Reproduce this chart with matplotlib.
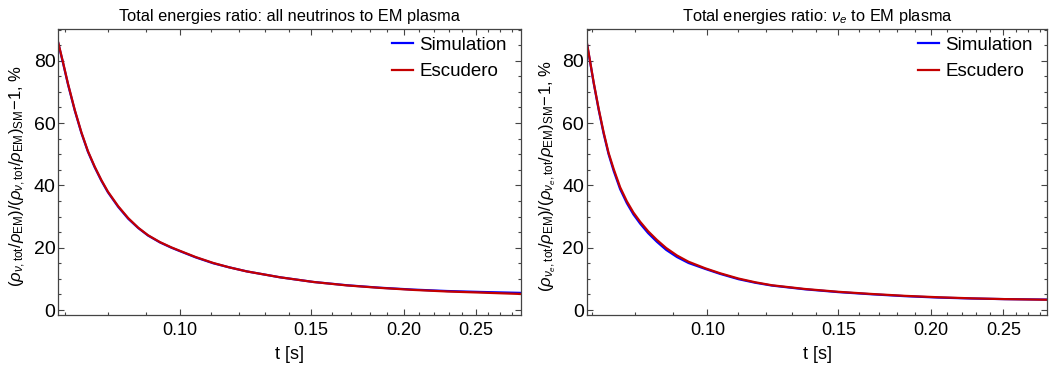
import matplotlib
matplotlib.use("Agg")
import matplotlib.pyplot as plt
from matplotlib.ticker import FixedLocator, NullFormatter, MultipleLocator, FixedFormatter

plt.rcParams['font.family'] = ['Liberation Sans', 'DejaVu Sans']
plt.rcParams['mathtext.fontset'] = 'custom'
plt.rcParams['mathtext.rm'] = 'Liberation Sans'
plt.rcParams['mathtext.it'] = 'Liberation Sans:italic'
plt.rcParams['mathtext.bf'] = 'Liberation Sans:bold'

# ---- data: all neutrinos ----
t_all = [0.0686, 0.0696, 0.0707, 0.0722, 0.0737, 0.0752, 0.0768, 0.0784, 0.0800, 0.0826,
         0.0852, 0.0879, 0.0906, 0.0940, 0.0974, 0.1000, 0.1050, 0.1109, 0.1165, 0.1230,
         0.1364, 0.1513, 0.1678, 0.1861, 0.2064, 0.2289, 0.2539, 0.2880]
sim_all = [85.6, 79.4, 72.4, 64.0, 56.8, 50.8, 45.8, 41.5, 37.8, 33.1,
           29.3, 26.3, 23.9, 21.7, 20.0, 18.9, 16.9, 15.0, 13.7, 12.4,
           10.5, 9.0, 7.95, 7.15, 6.55, 6.1, 5.8, 5.5]
esc_all = [85.8, 79.6, 72.6, 64.2, 57.0, 51.0, 46.0, 41.7, 38.0, 33.3,
           29.5, 26.4, 24.0, 21.8, 20.1, 19.0, 17.0, 15.1, 13.7, 12.4,
           10.5, 9.0, 7.9, 7.1, 6.45, 5.95, 5.6, 5.15]

# ---- data: electron neutrinos ----
t_e = [0.0688, 0.0695, 0.0703, 0.0714, 0.0725, 0.0736, 0.0748, 0.0763, 0.0779, 0.0795,
       0.0812, 0.0832, 0.0855, 0.0880, 0.0910, 0.0943, 0.0993, 0.1040, 0.1101, 0.1160,
       0.1221, 0.1353, 0.1500, 0.1664, 0.1844, 0.2044, 0.2267, 0.2513, 0.2870]
sim_e = [85.8, 79.8, 72.8, 64.2, 56.6, 50.1, 44.6, 38.8, 34.3, 30.7,
         27.7, 24.7, 21.9, 19.3, 17.0, 15.1, 13.2, 11.6, 9.9, 8.75,
         7.85, 6.65, 5.75, 5.05, 4.45, 4.0, 3.7, 3.5, 3.35]
esc_e = [86.0, 80.0, 73.0, 64.5, 57.0, 50.5, 45.2, 39.4, 34.9, 31.3,
         28.3, 25.3, 22.5, 19.9, 17.5, 15.5, 13.4, 11.8, 10.1, 8.9,
         7.95, 6.75, 5.85, 5.15, 4.55, 4.1, 3.75, 3.5, 3.3]

x_major = [0.10, 0.15, 0.20, 0.25]
x_major_labels = ['0.10', '0.15', '0.20', '0.25']
x_minor = [0.07, 0.08, 0.09, 0.11, 0.12, 0.13, 0.14, 0.16, 0.17, 0.18, 0.19,
           0.21, 0.22, 0.23, 0.24, 0.26, 0.27, 0.28]
y_major = [0, 20, 40, 60, 80]

titles = ['Total energies ratio: all neutrinos to EM plasma',
          r'Total energies ratio: $\nu_e$ to EM plasma']
ylabels = [r'$(\rho_{\nu,\mathrm{tot}}/\rho_{\mathrm{EM}})/(\rho_{\nu,\mathrm{tot}}/\rho_{\mathrm{EM}})_{\mathrm{SM}}\!-\!1$, %',
           r'$(\rho_{\nu_e,\mathrm{tot}}/\rho_{\mathrm{EM}})/(\rho_{\nu_e,\mathrm{tot}}/\rho_{\mathrm{EM}})_{\mathrm{SM}}\!-\!1$, %']

BLUE = '#0000ff'
RED = '#c40000'
FRAME = '#444444'

fig = plt.figure(figsize=(10.5, 3.66), dpi=100)
positions = [[0.0555, 0.1393, 0.441, 0.7807], [0.5588, 0.1393, 0.4386, 0.7807]]
datasets = [(t_all, sim_all, esc_all), (t_e, sim_e, esc_e)]
label_x = [-0.066, -0.063]

for i in range(2):
    ax = fig.add_axes(positions[i])
    t, s, e = datasets[i]
    ax.plot(t, s, color=BLUE, lw=1.6, label='Simulation', solid_joinstyle='round')
    ax.plot(t, e, color=RED, lw=1.6, label='Escudero', solid_joinstyle='round')
    ax.set_xscale('log')
    ax.set_xlim(0.0686 if i == 0 else 0.0688, 0.288 if i == 0 else 0.2865)
    ax.set_ylim(-1.6, 90.1)
    ax.xaxis.set_major_locator(FixedLocator(x_major))
    ax.xaxis.set_major_formatter(FixedFormatter(x_major_labels))
    ax.xaxis.set_minor_locator(FixedLocator(x_minor))
    ax.xaxis.set_minor_formatter(NullFormatter())
    ax.yaxis.set_major_locator(FixedLocator(y_major))
    ax.yaxis.set_minor_locator(MultipleLocator(5))
    ax.tick_params(which='both', direction='in', top=True, right=True, color=FRAME, width=0.8)
    ax.tick_params(which='major', length=4.5)
    ax.tick_params(which='minor', length=2.5)
    ax.tick_params(axis='x', labelsize=13, pad=5)
    ax.tick_params(axis='y', labelsize=14, pad=2)
    for sp in ax.spines.values():
        sp.set_color(FRAME)
        sp.set_linewidth(0.9)
    ax.set_title(titles[i], fontsize=11.8, pad=6)
    ax.set_xlabel('t [s]', fontsize=13, labelpad=5)
    ax.set_ylabel(ylabels[i], fontsize=12)
    ax.yaxis.set_label_coords(label_x[i], 0.485)
    ax.legend(loc='upper right', frameon=False, fontsize=13.5, handlelength=1.1,
              handletextpad=0.35, borderaxespad=0.0, labelspacing=0.5,
              bbox_to_anchor=(0.985, 1.0))

fig.savefig('out.png', dpi=100)
